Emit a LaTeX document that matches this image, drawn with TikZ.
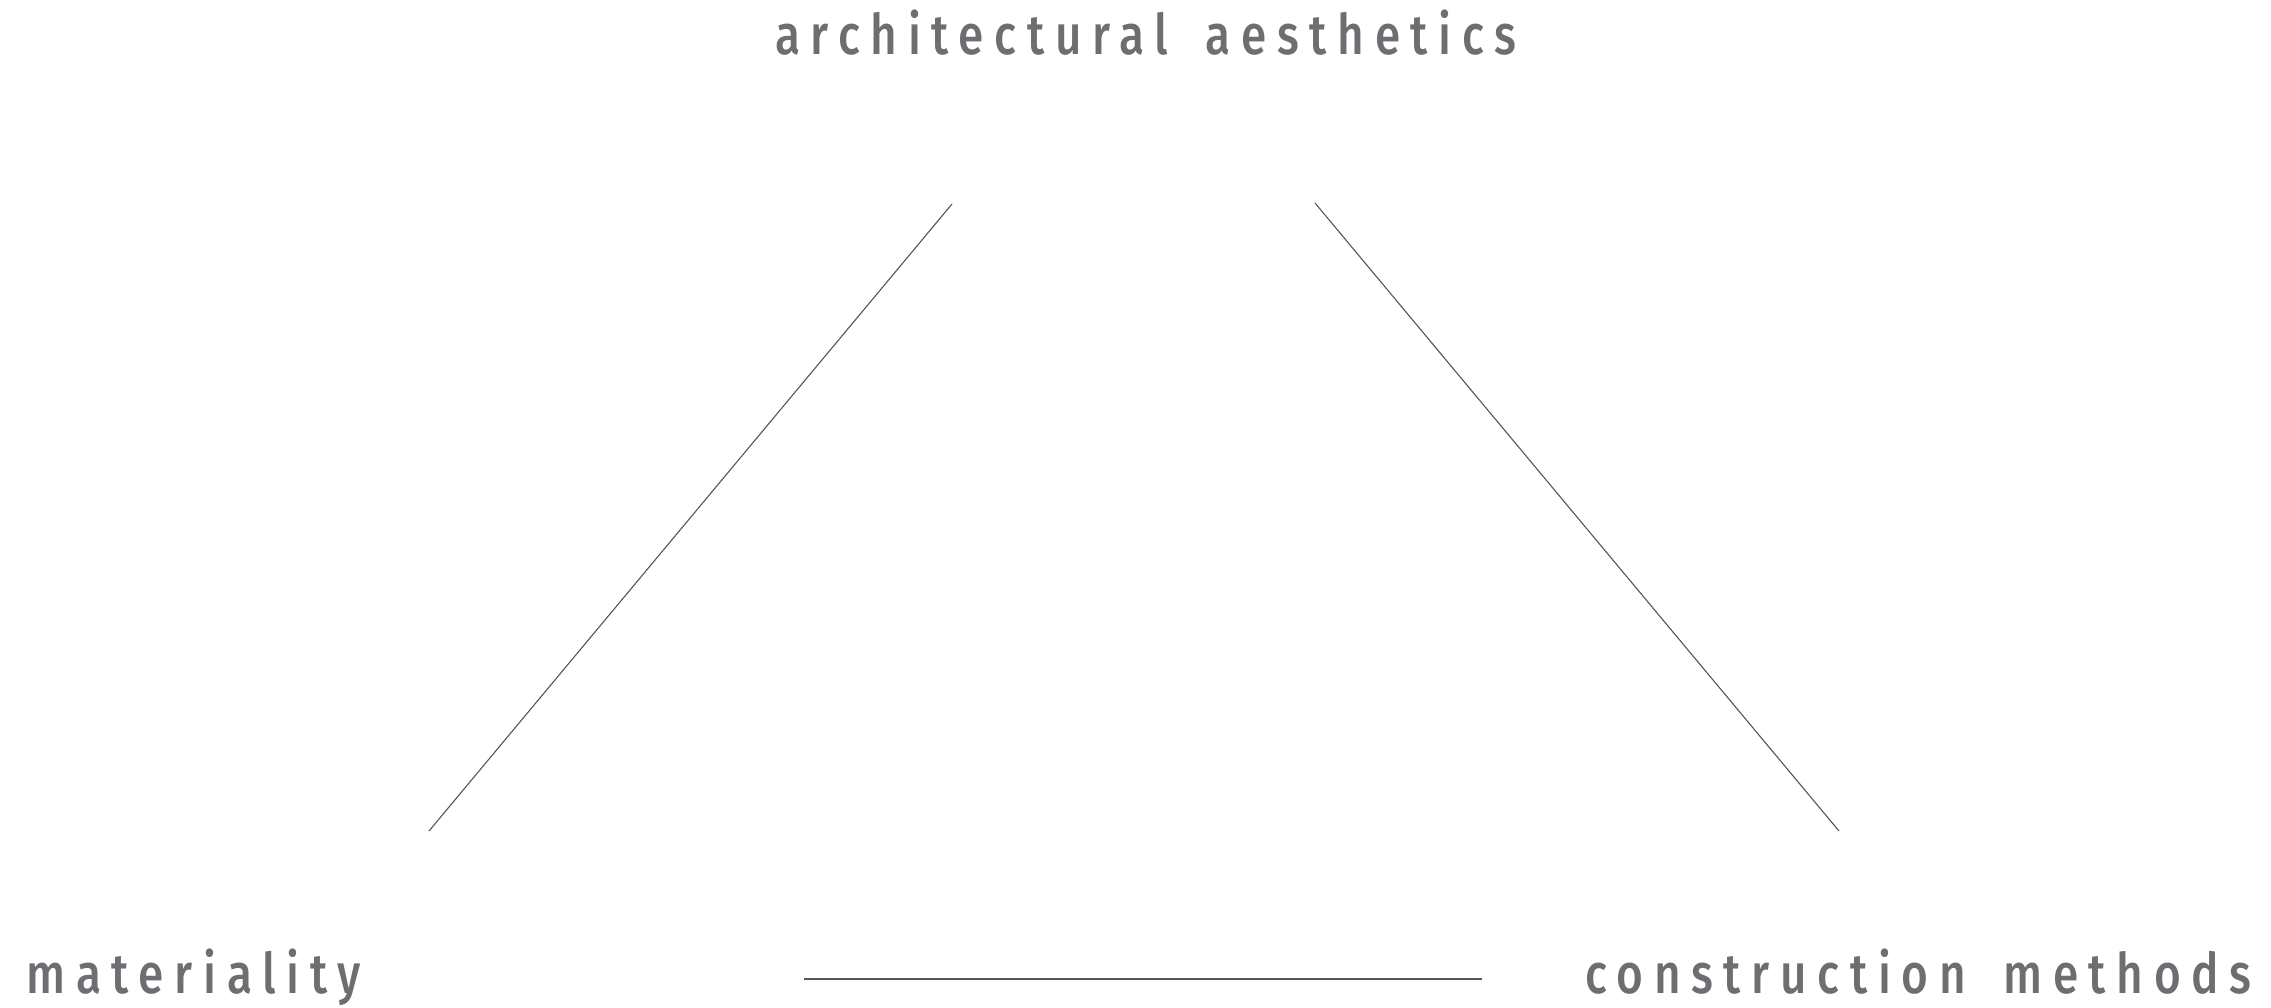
\documentclass[tikz,border=0pt]{standalone}
\usepackage{fontspec}
\newfontfamily\labfont{Fira Sans}[UprightFont={* Medium}, FakeStretch=0.82, LetterSpace=19, WordSpace=1.7]
\definecolor{labgray}{HTML}{6D6E71}
\definecolor{linegray}{HTML}{555555}
\begin{document}
\begin{tikzpicture}[x=0.5pt,y=-0.5pt,
  lab/.style={inner sep=0pt, text=labgray, font=\labfont\fontsize{28}{30}\selectfont},
  link/.style={draw=linegray, line width=0.55pt}]
\useasboundingbox (0,0) rectangle (2271,1007);
\node[lab, anchor=base] (aes) at (1146,54) {architectural aesthetics};
\node[lab, anchor=base west] (mat) at (26,993) {materiality};
\node[lab, anchor=base east] (con) at (2252,993) {construction methods};
\coordinate (l1) at (429,831);
\coordinate (l2) at (952,204);
\coordinate (r1) at (1315,203);
\coordinate (r2) at (1839,831);
\coordinate (b1) at (804,979);
\coordinate (b2) at (1482,979);
\draw[link] (l1) -- (l2);
\draw[link] (r1) -- (r2);
\draw[link] (b1) -- (b2);
\end{tikzpicture}
\end{document}
